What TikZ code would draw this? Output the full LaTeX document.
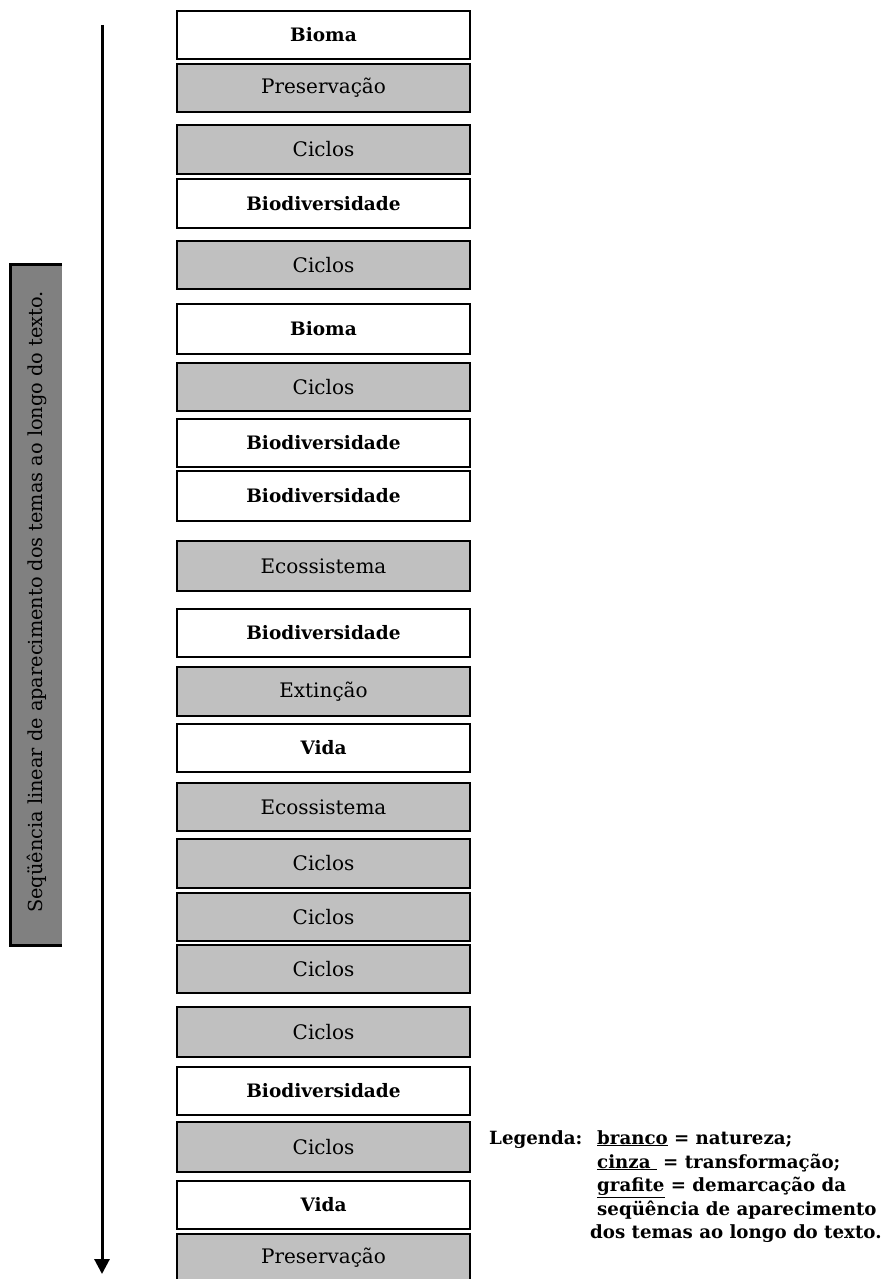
\documentclass[tikz,border=0pt]{standalone}
\usepackage{fontspec}
\setmainfont{DejaVu Serif}
\usetikzlibrary{shadows,arrows.meta}
\definecolor{boxgray}{HTML}{C0C0C0}
\definecolor{bargray}{HTML}{808080}
\tikzset{
  tema/.style={minimum width=293pt, minimum height=48pt, inner sep=0pt, draw=black, line width=2.4pt,
    drop shadow={shadow xshift=1.4pt,shadow yshift=-1.4pt,fill=black,opacity=1}},
  natureza/.style={tema, fill=white, font=\fontsize{18.5}{20}\selectfont\bfseries},
  transf/.style={tema, fill=boxgray, font=\fontsize{20}{22}\selectfont},
  leg/.style={anchor=base west, inner sep=0pt, font=\fontsize{18.2}{20}\selectfont\bfseries},
}
\begin{document}
\begin{tikzpicture}[x=1pt,y=-1pt]
\clip (0,0) rectangle (891,1279);
\fill[white] (0,0) rectangle (891,1279);
% left bar
\node[fill=bargray, minimum width=51pt, minimum height=680pt, inner sep=0pt] (barra) at (36.5,605) {};
\draw[line width=3pt] (barra.north east) -- (barra.north west) -- (barra.south west) -- (barra.south east);
\node[rotate=90, inner sep=0pt, font=\fontsize{19.3}{21}\selectfont] (bartxt) at (37,602) {Seqüência linear de aparecimento dos temas ao longo do texto.};
% arrow
\coordinate (setaini) at (102,25);
\coordinate (setafim) at (102,1274);
\draw[line width=3pt, -{Triangle[width=15pt,length=15pt]}] (setaini) -- (setafim);
% boxes
\node[natureza] (t1) at (323.5,35) {Bioma};
\node[transf] (t2) at (323.5,88) {Preservação};
\node[transf, minimum height=49pt] (t3) at (323.5,149.5) {Ciclos};
\node[natureza, minimum height=49pt] (t4) at (323.5,203.5) {Biodiversidade};
\node[transf] (t5) at (323.5,265) {Ciclos};
\node[natureza, minimum height=50pt] (t6) at (323.5,329) {Bioma};
\node[transf] (t7) at (323.5,387) {Ciclos};
\node[natureza] (t8) at (323.5,443) {Biodiversidade};
\node[natureza, minimum height=50pt] (t9) at (323.5,496) {Biodiversidade};
\node[transf, minimum height=50pt] (t10) at (323.5,566) {Ecossistema};
\node[natureza] (t11) at (323.5,633) {Biodiversidade};
\node[transf, minimum height=49pt] (t12) at (323.5,691.5) {Extinção};
\node[natureza] (t13) at (323.5,748) {Vida};
\node[transf] (t14) at (323.5,807) {Ecossistema};
\node[transf, minimum height=49pt] (t15) at (323.5,863.5) {Ciclos};
\node[transf] (t16) at (323.5,917) {Ciclos};
\node[transf] (t17) at (323.5,969) {Ciclos};
\node[transf, minimum height=50pt] (t18) at (323.5,1032) {Ciclos};
\node[natureza] (t19) at (323.5,1091) {Biodiversidade};
\node[transf, minimum height=50pt] (t20) at (323.5,1147) {Ciclos};
\node[natureza] (t21) at (323.5,1205) {Vida};
\node[transf] (t22) at (323.5,1258) {Preservação};
% legend
\node[leg] (leg0) at (489,1144) {Legenda:};
\node[leg] (leg1) at (597,1144) {\underline{branco} = natureza;};
\node[leg] (leg2) at (597,1168) {\underline{cinza\ } = transformação;};
\node[leg] (leg3) at (597,1191.5) {\underline{grafite} = demarcação da};
\node[leg] (leg4) at (597,1215) {seqüência de aparecimento};
\node[leg] (leg5) at (590,1238.5) {dos temas ao longo do texto.};
\end{tikzpicture}
\end{document}
